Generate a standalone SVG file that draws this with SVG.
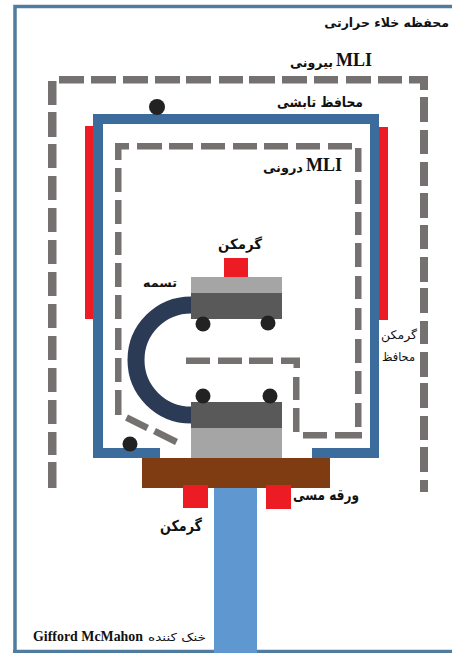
<svg xmlns="http://www.w3.org/2000/svg" width="452" height="653" viewBox="0 0 452 653">
<style>
.mli{fill:#757171}
.dot{fill:#222}
.heat{fill:#ed1c24}
.dk{fill:#595959}
.lt{fill:#a5a5a5}
.shield{fill:#3b6c9c}
text{font-family:"DejaVu Sans","Noto Sans",sans-serif;fill:#111;direction:rtl;text-anchor:start}
.b{font-weight:bold}
.e{font-family:"Liberation Serif",serif;font-weight:bold}
</style>
<rect width="452" height="653" fill="#fff"/>
<g id="chamber"><path d="M15 653V6.500H452M13 651.500H452" fill="none" stroke="#4f7c9f" stroke-width="3.500"/></g>
<g id="outer-mli" class="mli">
<path d="M59 76h25v7.500H59zM91 76h25v7.500H91zM123 76h25v7.500h-25zM155 76h25v7.500h-25zM186 76h25v7.500h-25zM219 76h24v7.500h-24zM249 76h26v7.500h-26zM282 76h25v7.500h-25zM314 76h24v7.500h-24zM346 76h25v7.500h-25zM378 76h24v7.500h-24zM409 76h19v14h-8v-6.500h-11z"/>
<path d="M420 97h8v25h-8zM420 130h8v24h-8zM420 162h8v24h-8zM420 193h8v25h-8zM420 225h8v24h-8zM420 257h8v25h-8zM420 288h8v25h-8zM420 321h8v23h-8zM420 352h8v25h-8zM420 383h8v25h-8zM420 416h8v24h-8zM420 447h8v25h-8zM420 480h8v12h-8z"/>
<path d="M48 81h8.500v24H48zM48 112h8.500v25H48zM48 144h8.500v24H48zM48 176h8.500v24H48zM48 208h8.500v24H48zM48 240h8.500v24H48zM48 272h8.500v24H48zM48 304h8.500v24H48zM48 336h8.500v24H48zM48 368h8.500v24H48zM48 400h8.500v24H48zM48 432h8.500v23H48zM48 462h8.500v26H48z"/>
</g>
<g id="heater-shield-left"><rect class="heat" x="85" y="126" width="9" height="193"/></g>
<g id="heater-shield-right"><rect class="heat" x="378" y="127" width="10" height="193"/></g>
<g id="radiation-shield"><path class="shield" d="M93 114H379V458H312V448H370V124H103V448H160V458H93Z"/></g>
<g id="inner-mli" class="mli">
<path d="M115 143h14v6.500h-7.500V160H115zM137 143h25v6.500h-25zM169 143h24v6.500h-24zM201 143h24v6.500h-24zM233 143h24v6.500h-24zM264 143h24v6.500h-24zM296 143h24v6.500h-24zM328 143h24v6.500h-24z"/>
<path d="M115 168h6.500v24H115zM115 200h6.500v24H115zM115 232h6.500v23H115zM115 263h6.500v24H115zM115 295h6.500v24H115zM115 328h6.500v22H115zM115 358h6.500v24H115zM115 390h6.500v25H115z"/>
<path d="M355 148h6.500v24H355zM355 180h6.500v24H355zM355 212h6.500v23H355zM355 243h6.500v24H355zM355 276h6.500v23H355zM355 308h6.500v22H355zM355 339h6.500v24H355zM355 371h6.500v23H355zM355 403h6.500v24H355z"/>
<path d="M303 432h24v6.500h-24zM335 432h27v6.500h-27zM293 377h6.500v23H293zM293 408h6.500v24H293z"/>
<path d="M186 357.500h24v6.500h-24zM218 357.500h24v6.500h-24zM249 357.500h24v6.500h-24zM281 357.500h19V368h-6.500v-4H281z"/>
<path d="M128 414.500l21 10.500-3 6-21-10.500zM156 428l22 11-3 6-22-11z"/>
</g>
<g id="strap"><path d="M191 305A55 55 0 0 0 191 415" fill="none" stroke="#2b3a55" stroke-width="17"/></g>
<g id="upper-block">
<rect class="lt" x="191" y="277" width="91" height="16"/>
<rect class="dk" x="191" y="293" width="91" height="26"/>
<rect class="heat" x="224" y="258" width="24" height="19"/>
</g>
<g id="lower-block">
<rect class="lt" x="191" y="428" width="91" height="30"/>
<rect class="dk" x="191" y="402" width="91" height="26"/>
</g>
<g id="sensors">
<circle class="dot" cx="157" cy="107" r="8"/>
<circle class="dot" cx="203" cy="324" r="7.500"/>
<circle class="dot" cx="268" cy="323" r="7.500"/>
<circle class="dot" cx="203" cy="396" r="7.500"/>
<circle class="dot" cx="270" cy="396" r="7.500"/>
<circle class="dot" cx="130" cy="444" r="7.500"/>
</g>
<g id="cold-finger"><rect x="214" y="488" width="43" height="165" fill="#5f98d0"/></g>
<g id="copper-plate"><rect x="142" y="458" width="188" height="30" fill="#7f3c12"/></g>
<g id="heater-bottom-left"><rect class="heat" x="183" y="485" width="25" height="23"/></g>
<g id="heater-bottom-right"><rect class="heat" x="266" y="485" width="25" height="24"/></g>
<g id="labels">
<text class="b" x="449" y="27" font-size="12.500">محفظه خلاء حرارتی</text>
<text class="e" x="372" y="66" font-size="18" style="direction:ltr;text-anchor:end">MLI</text>
<text class="b" x="333" y="67" font-size="13" textLength="43" lengthAdjust="spacingAndGlyphs">بیرونی</text>
<text class="b" x="363" y="107" font-size="14" textLength="86" lengthAdjust="spacingAndGlyphs">محافظ تابشی</text>
<text class="e" x="342" y="171" font-size="18" style="direction:ltr;text-anchor:end">MLI</text>
<text class="b" x="303" y="172" font-size="13" textLength="40" lengthAdjust="spacingAndGlyphs">درونی</text>
<text class="b" x="262" y="249" font-size="14" textLength="44" lengthAdjust="spacingAndGlyphs">گرمکن</text>
<text class="b" x="177" y="287" font-size="12" textLength="34" lengthAdjust="spacingAndGlyphs">تسمه</text>
<text x="417" y="339" font-size="12" textLength="36" lengthAdjust="spacingAndGlyphs">گرمکن</text>
<text x="415" y="361" font-size="12" textLength="33" lengthAdjust="spacingAndGlyphs">محافظ</text>
<text class="b" x="359" y="500" font-size="15" textLength="66" lengthAdjust="spacingAndGlyphs">ورقه مسی</text>
<text class="b" x="202" y="531" font-size="15" textLength="42" lengthAdjust="spacingAndGlyphs">گرمکن</text>
<text x="206" y="641" font-size="11" textLength="58" lengthAdjust="spacingAndGlyphs">خنک کننده</text>
<text class="e" x="143" y="641" font-size="13.900" style="direction:ltr;text-anchor:end">Gifford McMahon</text>
</g>
</svg>
